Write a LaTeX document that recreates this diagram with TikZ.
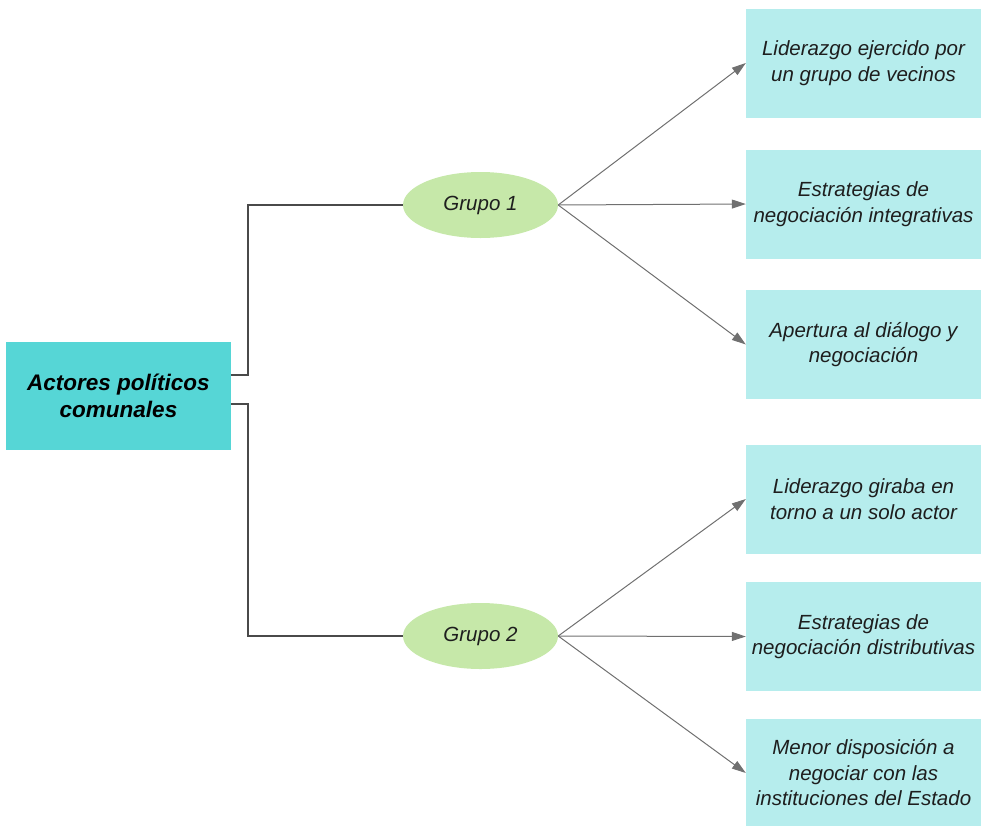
\documentclass[tikz,border=0pt]{standalone}
\usepackage{fontspec}
\setmainfont{Liberation Sans}
\usetikzlibrary{shapes.geometric,arrows.meta}

\definecolor{actorcyan}{HTML}{56D6D6}
\definecolor{itemcyan}{HTML}{B6EDED}
\definecolor{grupogreen}{HTML}{C6E8A9}
\definecolor{linegray}{HTML}{4A4A4A}
\definecolor{arrowgray}{HTML}{707070}
\definecolor{textdark}{HTML}{1E1E1E}

\tikzset{
  actor/.style={rectangle, fill=actorcyan, minimum width=225pt, minimum height=108pt,
    inner sep=0pt, align=center, text=black, font=\fontsize{22.5}{27.5}\selectfont\bfseries\itshape},
  grupo/.style={ellipse, fill=grupogreen, minimum width=155pt, minimum height=66pt,
    inner sep=0pt, text=textdark, font=\fontsize{20.5}{25}\selectfont\itshape},
  item/.style={rectangle, fill=itemcyan, minimum width=235pt, minimum height=109pt,
    inner sep=0pt, align=center, text=textdark, font=\fontsize{20.5}{25.5}\selectfont\itshape},
  elbow/.style={draw=linegray, line width=1.1pt},
  branch/.style={draw=arrowgray, line width=1pt, -{Triangle[length=14pt,width=9pt]}},
}

\begin{document}
\begin{tikzpicture}[x=1pt,y=-1pt]
    \useasboundingbox (0,0) rectangle (981,825);

    % actor and groups
    \node[actor] (actor) at (118.5,396) {Actores políticos\\comunales};
    \node[grupo] (g1) at (480.5,205) {Grupo 1};
    \node[grupo] (g2) at (480.5,636) {Grupo 2};

    % characteristics of each group
    \node[item] (c11) at (863.5,63)  {Liderazgo ejercido por\\un grupo de vecinos};
    \node[item] (c12) at (863.5,204) {Estrategias de\\negociación integrativas};
    \node[item] (c13) at (863.5,344.5) {Apertura al diálogo y\\negociación};
    \node[item] (c21) at (863.5,499) {Liderazgo giraba en\\torno a un solo actor};
    \node[item] (c22) at (863.5,636.5) {Estrategias de\\negociación distributivas};
    \node[item] (c23) at (863.5,773) {Menor disposición a\\negociar con las\\instituciones del Estado};

    \coordinate (split) at (248,396);

    \draw[elbow] (actor.east |- 0,375) -- (split |- 0,375) |- (g1.west);
    \draw[elbow] (actor.east |- 0,404) -- (split |- 0,404) |- (g2.west);

    \foreach \c in {c11,c12,c13} \draw[branch] (g1.east) -- (\c.west);
    \foreach \c in {c21,c22,c23} \draw[branch] (g2.east) -- (\c.west);
\end{tikzpicture}
\end{document}
